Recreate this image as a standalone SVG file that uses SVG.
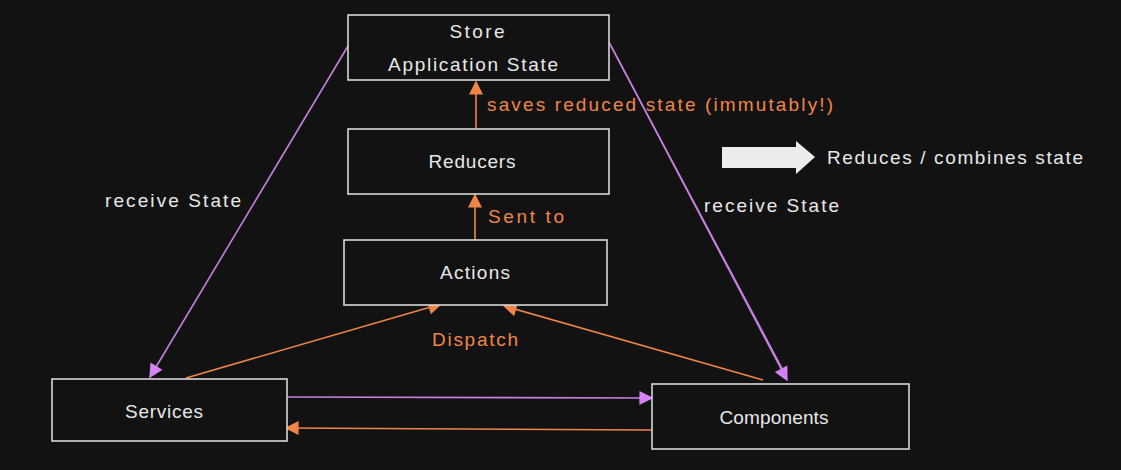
<svg xmlns="http://www.w3.org/2000/svg" width="1121" height="470" viewBox="0 0 1121 470">
<defs>
<style>
.box{fill:#121212;stroke:#d8d8d8;stroke-width:1.6}
.t{font-family:"Liberation Sans",Arial,sans-serif;font-size:19px;fill:#e8e8e8}
.o{fill:#f08548}
.lp{stroke:#c77fe0;stroke-width:1.6;fill:none}
.lo{stroke:#f08548;stroke-width:1.6;fill:none}
</style>
<marker id="ap" viewBox="0 0 10 10" refX="9" refY="5" markerWidth="15" markerHeight="14" markerUnits="userSpaceOnUse" orient="auto"><path d="M0,0 L10,5 L0,10 Z" fill="#d683f5"/></marker>
<marker id="ao" viewBox="0 0 10 10" refX="9" refY="5" markerWidth="15" markerHeight="14" markerUnits="userSpaceOnUse" orient="auto"><path d="M0,0 L10,5 L0,10 Z" fill="#f08548"/></marker>
</defs>
<rect width="1121" height="470" fill="#121212"/>
<g id="connectors">
<path class="lp" d="M348,46 L150,377" marker-end="url(#ap)"/>
<path class="lp" d="M609,42 L787,380" marker-end="url(#ap)"/>
<path class="lp" d="M611,46 L786,376"/>
<path class="lp" d="M287,397 L652,398" marker-end="url(#ap)"/>
<path class="lo" d="M652,430 L286,428" marker-end="url(#ao)"/>
<path class="lo" d="M186,378 L441,304" marker-end="url(#ao)"/>
<path class="lo" d="M763,380 L504,306" marker-end="url(#ao)"/>
<path class="lo" d="M475,240 L475,195" marker-end="url(#ao)"/>
<path class="lo" d="M476,128 L476,82" marker-end="url(#ao)"/>
</g>
<g id="store"><rect class="box" x="348" y="15" width="261" height="65"/>
<text class="t" x="477" y="38" text-anchor="middle" textLength="55">Store</text>
<text class="t" x="473" y="71" text-anchor="middle" textLength="170">Application State</text></g>
<g id="reducers"><rect class="box" x="348" y="129" width="261" height="65"/>
<text class="t" x="472" y="168" text-anchor="middle" textLength="87">Reducers</text></g>
<g id="actions"><rect class="box" x="344" y="240" width="263" height="65"/>
<text class="t" x="475" y="279" text-anchor="middle" textLength="70">Actions</text></g>
<g id="services"><rect class="box" x="52" y="379" width="235" height="62"/>
<text class="t" x="164" y="418" text-anchor="middle" textLength="78">Services</text></g>
<g id="components"><rect class="box" x="652" y="384" width="257" height="65"/>
<text class="t" x="774" y="424" text-anchor="middle" textLength="109">Components</text></g>
<g id="labels">
<text class="t o" x="487" y="111" textLength="346">saves reduced state (immutably!)</text>
<text class="t o" x="488" y="223" textLength="76">Sent to</text>
<text class="t o" x="432" y="346" textLength="86">Dispatch</text>
<text class="t" x="105" y="207" textLength="136">receive State</text>
<text class="t" x="704" y="212" textLength="135">receive State</text>
</g>
<g id="legend">
<path d="M722,147 L796,147 L796,141 L815,157 L796,174 L796,168 L722,168 Z" fill="#ececec"/>
<text class="t" x="827" y="164" textLength="256">Reduces / combines state</text>
</g>
</svg>
